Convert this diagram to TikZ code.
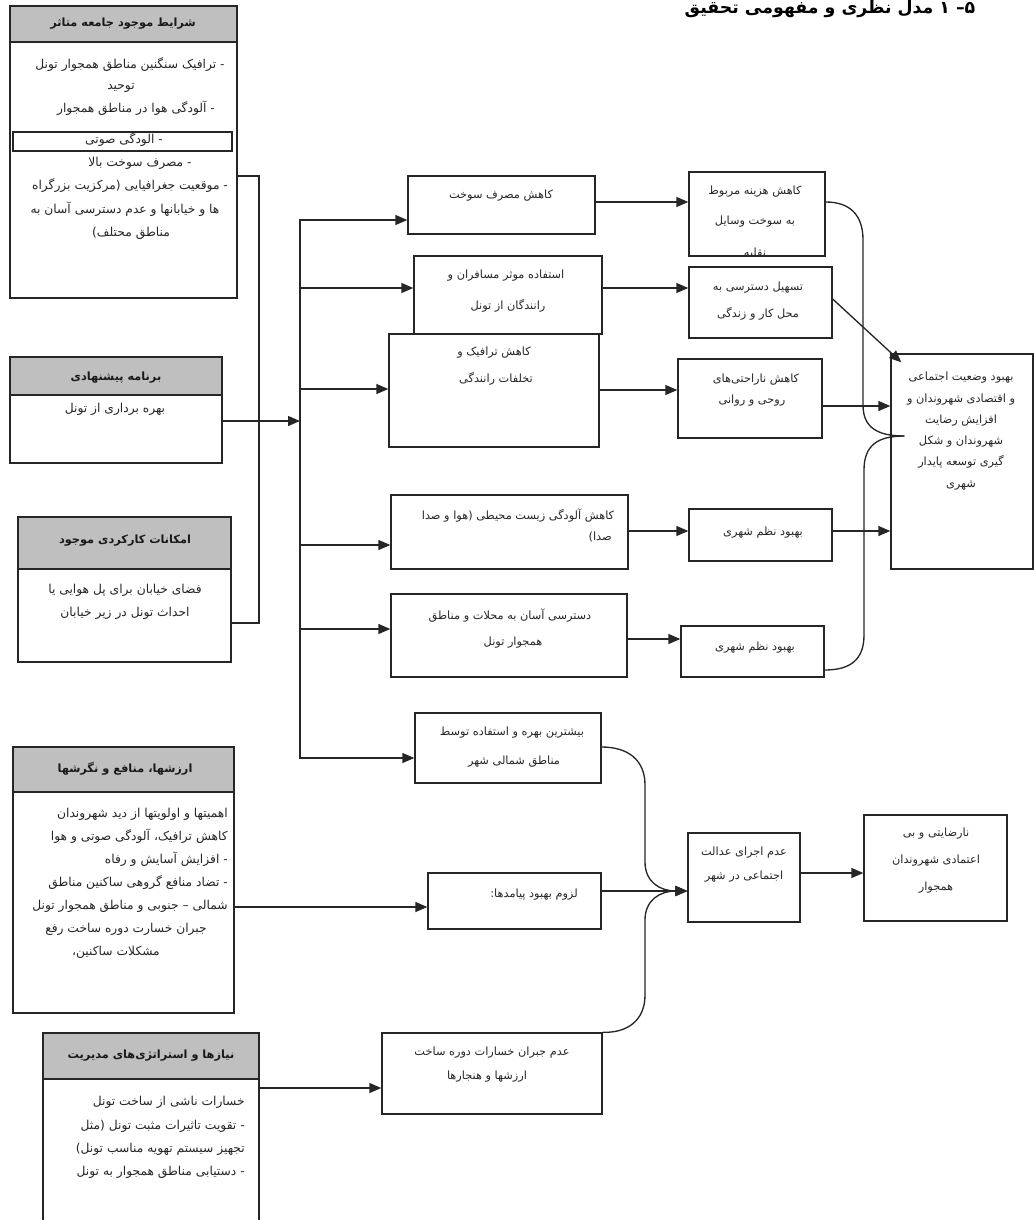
\documentclass[tikz,border=0pt]{standalone}
\usepackage{fontspec}
\newfontfamily\fafont[Script=Arabic]{DejaVu Sans}
\TeXXeTstate=1
\usetikzlibrary{arrows.meta,fit}
\newcommand\fa[1]{\beginR #1\endR}
\tikzset{
  box/.style={draw=black!85, line width=1pt, inner sep=0pt},
  hdr/.style={box, fill=black!25},
  txt/.style={font=\fafont\fontsize{8.5}{12}\selectfont, text=black!85, inner sep=0pt, text height=6pt, text depth=2pt},
  ltxt/.style={txt, font=\fafont\fontsize{9.2}{12}\selectfont},
  rtxt/.style={ltxt, anchor=east},
  htxt/.style={font=\fafont\bfseries\fontsize{8.5}{12}\selectfont, text=black!90, inner sep=0pt, text height=6pt, text depth=2pt},
  ln/.style={draw=black!85, line width=1pt},
  arr/.style={ln, -{Triangle[length=9pt,width=7.5pt]}},
}
\begin{document}
\begin{tikzpicture}[x=0.75pt,y=-0.75pt]
\useasboundingbox (0,0) rectangle (1034,1220);

% title
\node[font=\fafont\bfseries\fontsize{13}{15}\selectfont, anchor=base, inner sep=0pt] (title) at (830,14) {\fa{۵\kern0pt–\ ۱ مدل نظری و مفهومی تحقیق}};

% ---------- left boxes ----------
\node[box, fit={(10,6) (237,298)}] (S1) {};
\node[hdr, fit={(10,6) (237,42)}] (S1h) {};
\node[box, fit={(13,132) (232,151)}] (S1i) {};
\node[htxt] (S1ht) at (123,24) {\fa{شرایط موجود جامعه متاثر}};
\node[ltxt] (s1a) at (130,66) {\fa{- ترافیک سنگنین مناطق همجوار تونل}};
\node[ltxt] (s1b) at (121,87) {\fa{توحید}};
\node[ltxt] (s1c) at (136,110) {\fa{-  آلودگی هوا در مناطق همجوار}};
\node[ltxt] (s1d) at (124,141) {\fa{- آلودگی صوتی}};
\node[ltxt] (s1e) at (140,164) {\fa{- مصرف سوخت بالا}};
\node[ltxt] (s1f) at (130,187) {\fa{-   موقعیت جغرافیایی (مرکزیت بزرگراه}};
\node[ltxt] (s1g) at (125,211) {\fa{ها و خیابانها و عدم دسترسی آسان به}};
\node[ltxt] (s1h) at (131,234) {\fa{مناطق محتلف)}};

\node[box, fit={(10,357) (222,463)}] (S2) {};
\node[hdr, fit={(10,357) (222,395)}] (S2h) {};
\node[htxt] (S2ht) at (116,378) {\fa{برنامه پیشنهادی}};
\node[ltxt] (s2a) at (115,410) {\fa{بهره برداری از تونل}};

\node[box, fit={(18,517) (231,662)}] (S3) {};
\node[hdr, fit={(18,517) (231,569)}] (S3h) {};
\node[htxt] (S3ht) at (125,541) {\fa{امکانات کارکردی موجود}};
\node[ltxt] (s3a) at (125,591) {\fa{فضای خیابان برای پل هوایی یا}};
\node[ltxt] (s3b) at (125,614) {\fa{احداث تونل در زیر خیابان}};

\node[box, fit={(13,747) (234,1013)}] (R) {};
\node[hdr, fit={(13,747) (234,792)}] (Rh) {};
\node[htxt] (Rht) at (125,770) {\fa{ارزشها، منافع و نگرشها}};
\node[rtxt] (ra) at (228,815) {\fa{اهمیتها و اولویتها از دید شهروندان}};
\node[rtxt] (rb) at (228,838) {\fa{کاهش ترافیک، آلودگی صوتی و هوا}};
\node[rtxt] (rc) at (228,861) {\fa{-  افزایش آسایش و رفاه}};
\node[rtxt] (rd) at (228,884) {\fa{-   تضاد منافع گروهی ساکنین مناطق}};
\node[rtxt] (re) at (228,907) {\fa{شمالی – جنوبی و مناطق همجوار تونل}};
\node[ltxt] (rf) at (126,930) {\fa{جبران خسارت دوره ساخت رفع}};
\node[ltxt] (rg) at (116,953) {\fa{مشکلات ساکنین،}};

\node[box, fit={(43,1033) (259,1224)}] (Q) {};
\node[hdr, fit={(43,1033) (259,1079)}] (Qh) {};
\node[htxt] (Qht) at (151,1056) {\fa{نیازها و استراتژی‌های مدیریت}};
\node[rtxt] (qa) at (245,1103) {\fa{خسارات ناشی از ساخت تونل}};
\node[rtxt] (qb) at (245,1127) {\fa{- تقویت تاثیرات مثبت تونل (مثل}};
\node[rtxt] (qc) at (245,1150) {\fa{تجهیز سیستم تهویه مناسب تونل)}};
\node[rtxt] (qd) at (245,1173) {\fa{-  دستیابی مناطق همجوار به تونل}};

% ---------- middle boxes ----------
\node[box, fit={(408,176) (595,234)}] (A) {};
\node[txt] (at) at (501,196) {\fa{کاهش مصرف سوخت}};
\node[box, fit={(414,256) (602,334)}] (B) {};
\node[txt] (bt1) at (506,276) {\fa{استفاده موثر  مسافران و}};
\node[txt] (bt2) at (508,307) {\fa{رانندگان از تونل}};
\node[box, fit={(389,334) (599,447)}] (C) {};
\node[txt] (ct1) at (494,353) {\fa{کاهش ترافیک و}};
\node[txt] (ct2) at (496,380) {\fa{تخلفات رانندگی}};
\node[box, fit={(391,495) (628,569)}] (D) {};
\node[txt] (dt1) at (518,517) {\fa{کاهش آلودگی زیست محیطی (هوا و صدا}};
\node[txt, anchor=east] (dt2) at (612,538) {\fa{صدا)}};
\node[box, fit={(391,594) (627,677)}] (E) {};
\node[txt] (et1) at (510,617) {\fa{دسترسی آسان به محلات و مناطق}};
\node[txt] (et2) at (513,643) {\fa{همجوار تونل}};
\node[box, fit={(415,713) (601,783)}] (F) {};
\node[txt] (ft1) at (512,733) {\fa{بیشترین بهره و استفاده توسط}};
\node[txt] (ft2) at (514,762) {\fa{مناطق شمالی شهر}};
\node[box, fit={(428,873) (601,929)}] (M) {};
\node[txt] (mt) at (534,895) {\fa{لزوم بهبود پیامدها:}};
\node[box, fit={(382,1033) (602,1114)}] (P) {};
\node[txt] (pt1) at (492,1053) {\fa{عدم جبران خسارات دوره ساخت}};
\node[txt] (pt2) at (487,1077) {\fa{ارزشها و هنجارها}};

% ---------- right boxes ----------
\node[box, fit={(689,172) (825,256)}] (G) {};
\node[txt] (gt1) at (755,192) {\fa{کاهش هزینه مربوط}};
\node[txt] (gt2) at (755,222) {\fa{به سوخت وسایل}};
\begin{scope}
  \clip (G.south west) rectangle (G.north east);
  \node[txt] (gt3) at (755,254) {\fa{نقلیه}};
\end{scope}
\node[box, fit={(689,267) (832,338)}] (H) {};
\node[txt] (ht1) at (758,288) {\fa{تسهیل دسترسی به}};
\node[txt] (ht2) at (758,315) {\fa{محل کار و زندگی}};
\node[box, fit={(678,359) (822,438)}] (I) {};
\node[txt] (it1) at (756,380) {\fa{کاهش ناراحتی‌های}};
\node[txt] (it2) at (752,401) {\fa{روحی و روانی}};
\node[box, fit={(689,509) (832,561)}] (J) {};
\node[txt] (jt) at (763,533) {\fa{بهبود نظم شهری}};
\node[box, fit={(681,626) (824,677)}] (K) {};
\node[txt] (kt) at (755,648) {\fa{بهبود نظم شهری}};
\node[box, fit={(891,354) (1033,569)}] (L) {};
\node[txt] (lt1) at (961,378) {\fa{بهبود وضعیت اجتماعی}};
\node[txt] (lt2) at (961,400) {\fa{و اقتصادی شهروندان و}};
\node[txt] (lt3) at (961,421) {\fa{افزایش رضایت}};
\node[txt] (lt4) at (961,442) {\fa{شهروندان و شکل}};
\node[txt] (lt5) at (961,463) {\fa{گیری توسعه پایدار}};
\node[txt] (lt6) at (961,485) {\fa{شهری}};
\node[box, fit={(688,833) (800,922)}] (N) {};
\node[txt] (nt1) at (744,853) {\fa{عدم اجرای عدالت}};
\node[txt] (nt2) at (744,877) {\fa{اجتماعی در شهر}};
\node[box, fit={(864,815) (1007,921)}] (O) {};
\node[txt] (ot1) at (936,834) {\fa{نارضایتی و بی}};
\node[txt] (ot2) at (936,861) {\fa{اعتمادی شهروندان}};
\node[txt] (ot3) at (936,888) {\fa{همجوار}};

% ---------- connectors ----------
\coordinate (busT) at (259,176);
\coordinate (busB) at (259,623);
\coordinate (trkT) at (300,220);
\coordinate (trkB) at (300,758);
\draw[ln] (S1.east |- busT) -- (busT) -- (busB) -- (S3.east |- busB);
\draw[arr] (S2.east |- 0,421) -- (trkT |- 0,421);
\draw[arr] (trkB) -- (trkT) -- (A.west |- trkT);
\draw[arr] (trkT) -- (trkB) -- (F.west |- trkB);
\draw[arr] (trkT |- 0,288) -- (B.west |- 0,288);
\draw[arr] (trkT |- 0,389) -- (C.west |- 0,389);
\draw[arr] (trkT |- 0,545) -- (D.west |- 0,545);
\draw[arr] (trkT |- 0,629) -- (E.west |- 0,629);

\draw[arr] (A.east |- 0,202) -- (G.west |- 0,202);
\draw[arr] (B.east |- 0,288) -- (H.west |- 0,288);
\draw[arr] (C.east |- 0,390) -- (I.west |- 0,390);
\draw[arr] (D.east |- 0,531) -- (J.west |- 0,531);
\draw[arr] (E.east |- 0,639) -- (K.west |- 0,639);

\draw[arr] (H.east |- 0,299) -- ([shift={(11,9)}]L.north west);
\draw[arr] (I.east |- 0,406) -- (L.west |- 0,406);
\draw[arr] (J.east |- 0,531) -- (L.west |- 0,531);
\draw[ln] (G.east |- 0,202) .. controls (850,202) and (863,215) .. (863,240)
  -- (863,405) .. controls (863,428) and (878,436) .. ([xshift=10.5pt]L.west |- 0,436);
\draw[ln] (K.east |- 0,670) .. controls (850,670) and (864,660) .. (864,635)
  -- (864,470) .. controls (864,445) and (878,436) .. ([xshift=10.5pt]L.west |- 0,436);

\draw[arr] (R.east |- 0,907) -- (M.west |- 0,907);
\draw[arr] (Q.east |- 0,1088) -- (P.west |- 0,1088);
\draw[arr] (M.east |- 0,891) -- (N.west |- 0,891);
\draw[arr] (F.east |- 0,747) .. controls (628,747) and (645,760) .. (645,785)
  -- (645,862) .. controls (645,882) and (660,891) .. (N.west |- 0,891);
\draw[arr] (P.north east) .. controls (628,1033) and (645,1020) .. (645,995)
  -- (645,920) .. controls (645,900) and (660,891) .. (N.west |- 0,891);
\draw[arr] (N.east |- 0,873) -- (O.west |- 0,873);
\end{tikzpicture}
\end{document}
